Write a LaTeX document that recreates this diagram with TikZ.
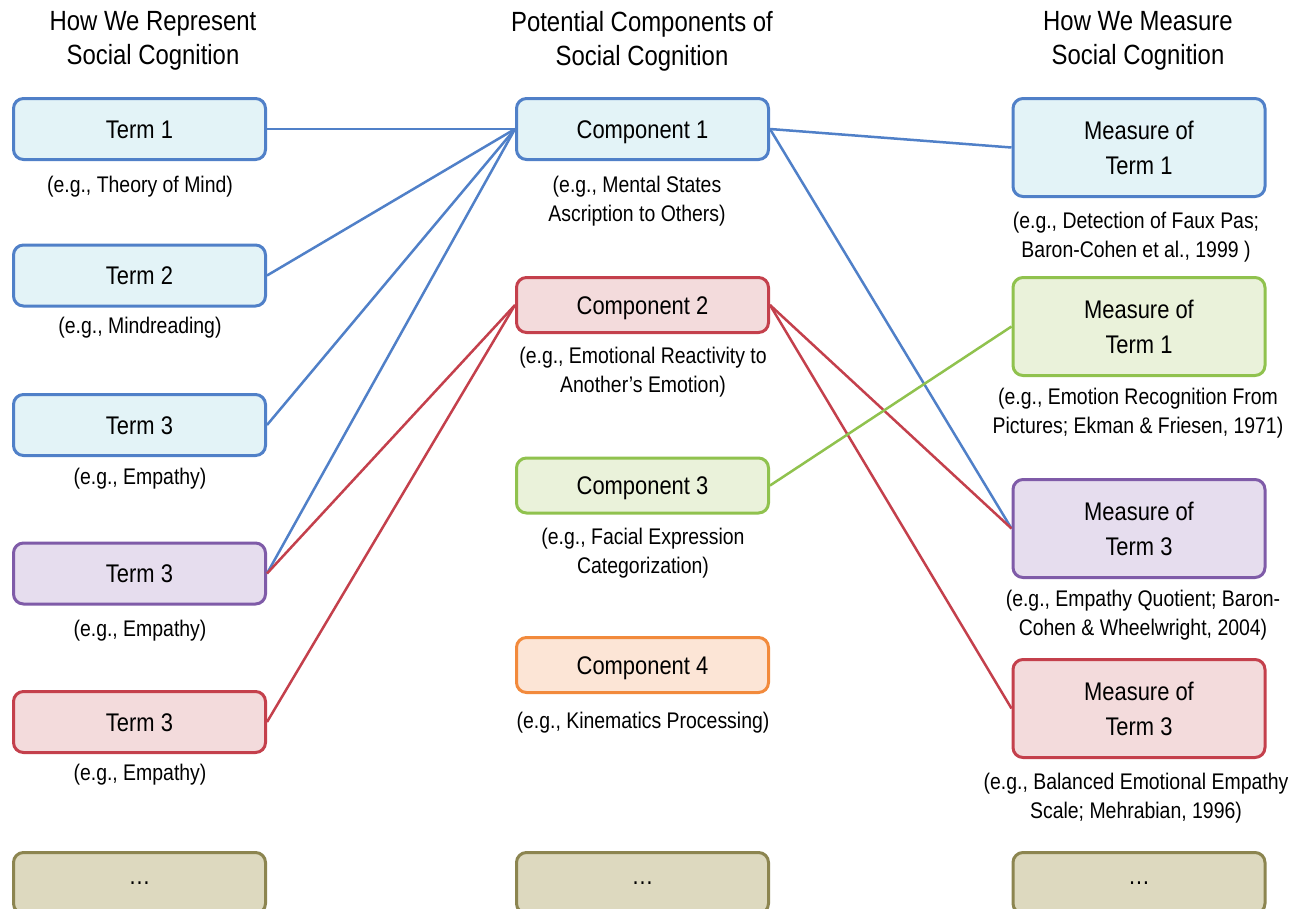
\documentclass[tikz,border=0pt]{standalone}
\usepackage{fontspec}
\setmainfont{Liberation Sans}[FakeStretch=0.86]
\definecolor{bluE}{HTML}{5080C8}
\definecolor{blueF}{HTML}{E3F3F7}
\definecolor{redE}{HTML}{C4404C}
\definecolor{redF}{HTML}{F3DBDC}
\definecolor{grnE}{HTML}{90C24E}
\definecolor{grnF}{HTML}{EAF2DA}
\definecolor{purE}{HTML}{7F5BA8}
\definecolor{purF}{HTML}{E6DDEE}
\definecolor{orgE}{HTML}{F28A3C}
\definecolor{orgF}{HTML}{FCE5D6}
\definecolor{olvE}{HTML}{8C8550}
\definecolor{olvF}{HTML}{DDD9BF}
\tikzset{
  box/.style={rectangle, rounded corners=10pt, line width=3pt, inner sep=0pt,
    minimum width=252pt, align=center, font=\fontsize{25.5}{35}\selectfont},
  onebox/.style={box, text height=18.3pt, text depth=0pt},
  termbox/.style={onebox, minimum height=61pt},
  compbox/.style={onebox, minimum height=55pt},
  measbox/.style={box, minimum height=98pt},
  dotbox/.style={box, minimum height=61pt},
  bluebox/.style={draw=bluE, fill=blueF},
  redbox/.style={draw=redE, fill=redF},
  grnbox/.style={draw=grnE, fill=grnF},
  purbox/.style={draw=purE, fill=purF},
  orgbox/.style={draw=orgE, fill=orgF},
  olvbox/.style={draw=olvE, fill=olvF},
  captxt/.style={align=center, inner sep=0pt, font=\fontsize{22.6}{29}\selectfont},
  hdr/.style={align=center, inner sep=0pt, font=\fontsize{27.8}{34}\selectfont},
  conn/.style={line width=2.5pt},
}
\begin{document}
\begin{tikzpicture}[x=1pt,y=-1pt]
\clip (0,0) rectangle (1291,908);
\fill[white] (0,0) rectangle (1291,908);
% headers
\node[hdr] (h1) at (153,41) {How We Represent\\Social Cognition};
\node[hdr] (h2) at (642,41) {Potential Components of\\Social Cognition};
\node[hdr] (h3) at (1138,41) {How We Measure\\Social Cognition};
% left column
\node[termbox,bluebox] (t1) at (139.5,129) {Term 1};
\node[termbox,bluebox] (t2) at (139.5,275.5) {Term 2};
\node[termbox,bluebox] (t3) at (139.5,425) {Term 3};
\node[termbox,purbox] (t4) at (139.5,573.5) {Term 3};
\node[termbox,redbox] (t5) at (139.5,722) {Term 3};
\node[dotbox,olvbox] (t6) at (139.5,883) {\dots};
\node[captxt] (c1) at (140,187) {(e.g., Theory of Mind)};
\node[captxt] (c2) at (140,328) {(e.g., Mindreading)};
\node[captxt] (c3) at (140,479) {(e.g., Empathy)};
\node[captxt] (c4) at (140,631) {(e.g., Empathy)};
\node[captxt] (c5) at (140,775) {(e.g., Empathy)};
% middle column
\node[termbox,bluebox] (k1) at (642.5,129) {Component 1};
\node[compbox,redbox] (k2) at (642.5,305) {Component 2};
\node[compbox,grnbox] (k3) at (642.5,485.5) {Component 3};
\node[compbox,orgbox] (k4) at (642.5,665) {Component 4};
\node[dotbox,olvbox] (k5) at (642.5,883) {\dots};
\node[captxt] (d1) at (637,201) {(e.g., Mental States\\Ascription to Others)};
\node[captxt] (d2) at (643,372.5) {(e.g., Emotional Reactivity to\\Another’s Emotion)};
\node[captxt] (d3) at (643,553.5) {(e.g., Facial Expression\\Categorization)};
\node[captxt] (d4) at (643,723) {(e.g., Kinematics Processing)};
% right column
\node[measbox,bluebox] (m1) at (1139,147.5) {Measure of\\Term 1};
\node[measbox,grnbox] (m2) at (1139,326.5) {Measure of\\Term 1};
\node[measbox,purbox] (m3) at (1139,528.5) {Measure of\\Term 3};
\node[measbox,redbox] (m4) at (1139,708.5) {Measure of\\Term 3};
\node[dotbox,olvbox] (m5) at (1139,883) {\dots};
\node[captxt] (e1) at (1136,237.5) {(e.g., Detection of Faux Pas;\\Baron-Cohen et al., 1999 )};
\node[captxt] (e2) at (1138,413.5) {(e.g., Emotion Recognition From\\Pictures; Ekman \& Friesen, 1971)};
\node[captxt] (e3) at (1143,615.5) {(e.g., Empathy Quotient; Baron-\\Cohen \& Wheelwright, 2004)};
\node[captxt] (e4) at (1136,798.5) {(e.g., Balanced Emotional Empathy\\Scale; Mehrabian, 1996)};
% connectors
\draw[conn,bluE] (t1.east) -- (k1.west);
\draw[conn,bluE] (t2.east) -- (k1.west);
\draw[conn,bluE] (t3.east) -- (k1.west);
\draw[conn,bluE] (t4.east) -- (k1.west);
\draw[conn,redE] (t4.east) -- (k2.west);
\draw[conn,redE] (t5.east) -- (k2.west);
\draw[conn,bluE] (k1.east) -- (m1.west);
\draw[conn,bluE] (k1.east) -- (m3.west);
\draw[conn,redE] (k2.east) -- (m3.west);
\draw[conn,redE] (k2.east) -- (m4.west);
\draw[conn,grnE] (k3.east) -- (m2.west);
\end{tikzpicture}
\end{document}
